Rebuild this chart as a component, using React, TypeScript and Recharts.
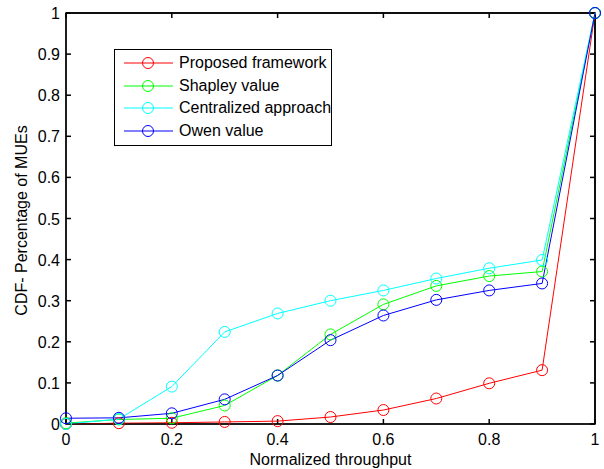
import React from "react";
import { LineChart, Line, XAxis, YAxis, Legend, ReferenceLine, ReferenceArea } from "recharts";

const throughput = [0, 0.1, 0.2, 0.3, 0.4, 0.5, 0.6, 0.7, 0.8, 0.9, 1];
const proposed = [0.0, 0.002, 0.003, 0.005, 0.007, 0.017, 0.034, 0.062, 0.099, 0.131, 1];
const shapley = [0.002, 0.011, 0.014, 0.045, 0.118, 0.218, 0.291, 0.336, 0.36, 0.371, 1];
const centralized = [0.0, 0.012, 0.091, 0.224, 0.269, 0.3, 0.325, 0.354, 0.379, 0.399, 1];
const owen = [0.014, 0.015, 0.026, 0.06, 0.118, 0.204, 0.264, 0.302, 0.325, 0.342, 1];

const xTicks = [0, 0.2, 0.4, 0.6, 0.8, 1];
const yTicks = [0, 0.1, 0.2, 0.3, 0.4, 0.5, 0.6, 0.7, 0.8, 0.9, 1];

const series = [
  { key: "proposed", name: "Proposed framework", color: "#ff0000" },
  { key: "shapley", name: "Shapley value", color: "#00ff00" },
  { key: "centralized", name: "Centralized approach", color: "#00ffff" },
  { key: "owen", name: "Owen value", color: "#0000ff" },
];

const data = throughput.map((x, i) => ({
  x,
  proposed: proposed[i],
  shapley: shapley[i],
  centralized: centralized[i],
  owen: owen[i],
}));

const FONT = '"Liberation Sans", Arial, sans-serif';
const FS = 16;
const TICK = 5;
const FRAME = "#000000";

// chart layout
const W = 604;
const H = 469;
const MARGIN = { top: 13, right: 9, bottom: 0, left: 6 };
const X_AXIS_H = 45;
const Y_AXIS_W = 60;
const PLOT_W = W - MARGIN.left - MARGIN.right - Y_AXIS_W;
const PLOT_H = H - MARGIN.top - MARGIN.bottom - X_AXIS_H;
// tick length expressed in data units
const TICK_DX = TICK / PLOT_W;
const TICK_DY = TICK / PLOT_H;

const BottomTick = (props: any) => (
  <text x={props.x} y={props.y + 21} textAnchor="middle" fontSize={FS} fontFamily={FONT} fill="#000">
    {String(props.payload.value)}
  </text>
);

const LeftTick = (props: any) => (
  <text x={props.x - 6} y={props.y + 6} textAnchor="end" fontSize={FS} fontFamily={FONT} fill="#000">
    {String(props.payload.value)}
  </text>
);

const LegendBox = () => (
  <div
    style={{
      border: "1px solid #000",
      background: "#fff",
      width: 216,
      height: 93,
      boxSizing: "content-box",
      fontFamily: FONT,
      fontSize: FS,
      paddingTop: 2,
      paddingBottom: 0,
    }}
  >
    {series.map((s) => (
      <div key={s.key} style={{ display: "flex", alignItems: "center", height: 22.5 }}>
        <svg width={55} height={14} style={{ marginLeft: 9, flex: "none" }}>
          <line x1={0} y1={7} x2={49} y2={7} stroke={s.color} />
          <circle cx={24} cy={7} r={5.5} fill="none" stroke={s.color} />
        </svg>
        <span style={{ color: "#000", whiteSpace: "nowrap" }}>{s.name}</span>
      </div>
    ))}
  </div>
);

export default function App() {
  return (
    <div style={{ position: "absolute", left: 0, top: 0, width: W, height: H, background: "#fff" }}>
      <LineChart width={W} height={H} data={data} margin={MARGIN}>
        <XAxis
          dataKey="x"
          type="number"
          domain={[0, 1]}
          ticks={xTicks}
          height={X_AXIS_H}
          tickSize={0}
          tickMargin={0}
          tick={<BottomTick />}
          interval={0}
          axisLine={{ stroke: "#000" }}
          tickLine={false}
          label={(p: any) => {
            const vb = p.viewBox;
            return (
              <text x={vb.x + vb.width / 2} y={vb.y + 41} textAnchor="middle" fontSize={FS} fontFamily={FONT} fill="#000">
                Normalized throughput
              </text>
            );
          }}
        />
        <YAxis
          type="number"
          domain={[0, 1]}
          ticks={yTicks}
          width={Y_AXIS_W}
          tickSize={0}
          tickMargin={0}
          tick={<LeftTick />}
          interval={0}
          axisLine={{ stroke: "#000" }}
          tickLine={false}
          label={(p: any) => {
            const vb = p.viewBox;
            const cx = vb.x + 15;
            const cy = vb.y + vb.height / 2 + 2;
            return (
              <text x={cx} y={cy} transform={`rotate(-90 ${cx} ${cy})`} textAnchor="middle" dominantBaseline="central" fontSize={FS} fontFamily={FONT} fill="#000">
                CDF- Percentage of MUEs
              </text>
            );
          }}
        />
        {/* box frame around the plot */}
        <ReferenceArea x1={0} x2={1} y1={0} y2={1} fill="none" fillOpacity={0} stroke={FRAME} strokeWidth={1.5} ifOverflow="visible" />
        <ReferenceLine y={1} stroke={FRAME} strokeWidth={1.5} ifOverflow="visible" />
        <ReferenceLine x={1} stroke={FRAME} strokeWidth={1.5} ifOverflow="visible" />
        {/* inward ticks on all four sides */}
        {xTicks.map((t) => (
          <ReferenceLine key={`b${t}`} segment={[{ x: t, y: 0 }, { x: t, y: TICK_DY }]} stroke={FRAME} strokeWidth={1.5} ifOverflow="visible" />
        ))}
        {xTicks.map((t) => (
          <ReferenceLine key={`t${t}`} segment={[{ x: t, y: 1 }, { x: t, y: 1 - TICK_DY }]} stroke={FRAME} strokeWidth={1.5} ifOverflow="visible" />
        ))}
        {yTicks.map((t) => (
          <ReferenceLine key={`l${t}`} segment={[{ x: 0, y: t }, { x: TICK_DX, y: t }]} stroke={FRAME} strokeWidth={1.5} ifOverflow="visible" />
        ))}
        {yTicks.map((t) => (
          <ReferenceLine key={`r${t}`} segment={[{ x: 1, y: t }, { x: 1 - TICK_DX, y: t }]} stroke={FRAME} strokeWidth={1.5} ifOverflow="visible" />
        ))}
        <Legend
          layout="vertical"
          align="center"
          verticalAlign="middle"
          content={() => <LegendBox />}
          wrapperStyle={{ left: 114, top: 49, width: 220, height: 100 }}
        />
        {series.map((s) => (
          <Line
            key={s.key}
            type="linear"
            dataKey={s.key}
            name={s.name}
            stroke={s.color}
            strokeWidth={1}
            dot={{ r: 5.5, fill: "none", stroke: s.color, strokeWidth: 1 }}
            activeDot={false}
            isAnimationActive={false}
          />
        ))}
      </LineChart>
    </div>
  );
}
